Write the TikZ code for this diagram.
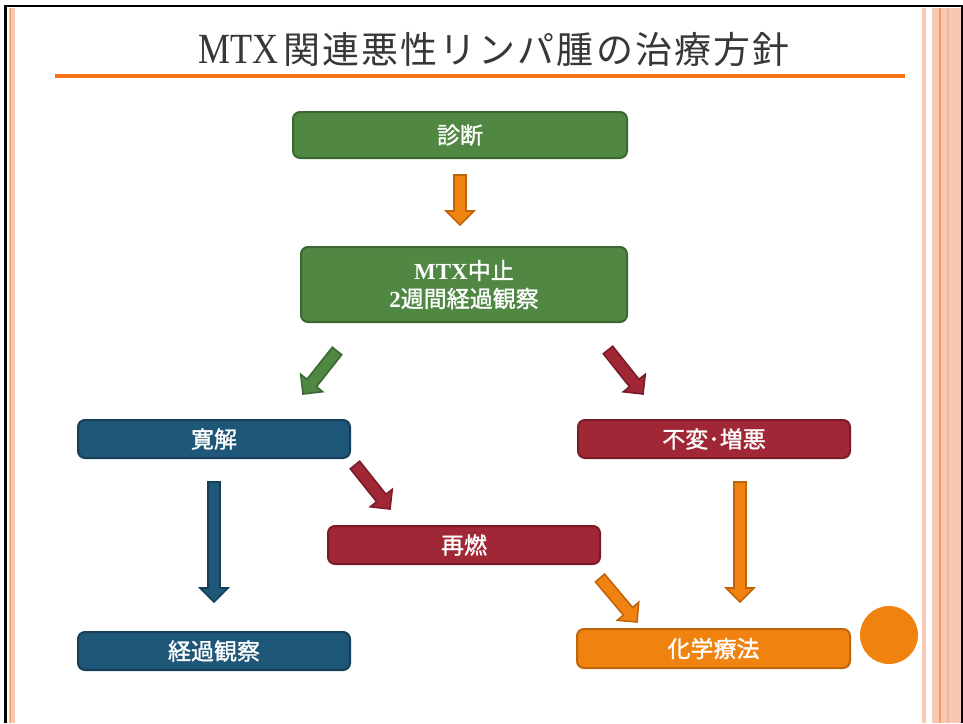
\documentclass[tikz,border=0pt]{standalone}
\usepackage{fontspec}
\usepackage{graphicx}
\usetikzlibrary{calc}
\newfontfamily\jpfont[FakeBold=1.2]{Noto Sans CJK JP}
\newfontfamily\titlejp[LetterSpace=5.6]{Noto Sans CJK JP}
\newfontfamily\serfont{Liberation Serif}
\definecolor{gfill}{RGB}{79,135,67}
\definecolor{gdraw}{RGB}{58,104,49}
\definecolor{bfill}{RGB}{30,87,120}
\definecolor{bdraw}{RGB}{22,62,88}
\definecolor{rfill}{RGB}{160,39,53}
\definecolor{rdraw}{RGB}{122,28,40}
\definecolor{ofill}{RGB}{240,130,15}
\definecolor{odraw}{RGB}{192,101,13}
\definecolor{salmon}{RGB}{248,200,180}
\definecolor{salmondark}{RGB}{242,180,150}
\definecolor{stripeor}{RGB}{240,160,90}
\definecolor{lineor}{RGB}{245,115,20}
\definecolor{titlegray}{RGB}{55,55,55}
\newcommand\blockarrow[4]{%
  \coordinate (#3h) at ($(#4)!14pt!(#3)$);
  \filldraw[fill=#1, draw=#2, line width=1.6pt, line join=miter]
    ($(#3)!6pt!90:(#4)$) -- ($(#3h)!6pt!90:(#4)$) -- ($(#3h)!14pt!90:(#4)$) -- (#4)
    -- ($(#3h)!14pt!-90:(#4)$) -- ($(#3h)!6pt!-90:(#4)$) -- ($(#3)!6pt!-90:(#4)$) -- cycle;
}
\begin{document}
\begin{tikzpicture}[x=1pt,y=-1pt,
  box/.style={rounded corners=7pt, line width=2pt, minimum height=38pt, minimum width=272pt,
    text=white, font=\jpfont\fontsize{23}{28}\selectfont, inner sep=0pt, align=center},
  greenbox/.style={box, fill=gfill, draw=gdraw},
  bluebox/.style={box, fill=bfill, draw=bdraw},
  redbox/.style={box, fill=rfill, draw=rdraw},
  orangebox/.style={box, fill=ofill, draw=odraw}
]
\useasboundingbox (0,0) rectangle (963,723);
% frame
\fill[salmon] (9,8) rectangle (15,723);
\draw[stripeor, line width=1pt] (10.5,8) -- (10.5,723);
\fill[salmon] (922,8) rectangle (926,723);
\fill[salmon] (932,8) rectangle (961,723);
\fill[stripeor] (939,8) rectangle (941,723);
\fill[salmondark] (947,8) rectangle (949,723);
\draw[black, line width=2.6pt] (5.5,723) -- (5.5,6) -- (962,6) -- (962,723);
% title
\node[inner sep=0pt, anchor=base west, text=titlegray] (title) at (198,63)
  {{\serfont\fontsize{43}{43}\selectfont\scalebox{0.84}[1]{MTX}}\hspace{5pt}{\titlejp\fontsize{37}{37}\selectfont 関連悪性リンパ腫の治療方針}};
\draw[lineor, line width=4pt] (55,76) -- (905,76);
% boxes
\node[greenbox, minimum width=334pt, minimum height=46pt] (diag) at (460,135) {診断};
\node[greenbox, minimum width=326pt, minimum height=75pt] (stop) at (464,284.5)
  {{\serfont\bfseries MTX}中止\\{\serfont\bfseries 2}週間経過観察};
\node[bluebox] (remit) at (214,439) {寛解};
\node[redbox] (worse) at (714,439) {不変･増悪};
\node[redbox] (relapse) at (464,545) {再燃};
\node[bluebox] (observe) at (214,651) {経過観察};
\node[orangebox, minimum width=273pt, minimum height=39pt] (chemo) at (713.5,648.5) {化学療法};
\fill[ofill] (889,635) circle (29pt);
% arrow end points
\coordinate (a1s) at (460,175); \coordinate (a1e) at (460,225);
\coordinate (a2s) at (337,351); \coordinate (a2e) at (303,394);
\coordinate (a3s) at (608,350); \coordinate (a3e) at (643,394);
\coordinate (a4s) at (355,465); \coordinate (a4e) at (390,509);
\coordinate (a5s) at (600,578); \coordinate (a5e) at (637,622);
\coordinate (a6s) at (740,482); \coordinate (a6e) at (740,602);
\coordinate (a7s) at (214,482); \coordinate (a7e) at (214,602);
\blockarrow{ofill}{odraw}{a1s}{a1e}
\blockarrow{gfill}{gdraw}{a2s}{a2e}
\blockarrow{rfill}{rdraw}{a3s}{a3e}
\blockarrow{rfill}{rdraw}{a4s}{a4e}
\blockarrow{ofill}{odraw}{a5s}{a5e}
\blockarrow{ofill}{odraw}{a6s}{a6e}
\blockarrow{bfill}{bdraw}{a7s}{a7e}
\end{tikzpicture}
\end{document}
